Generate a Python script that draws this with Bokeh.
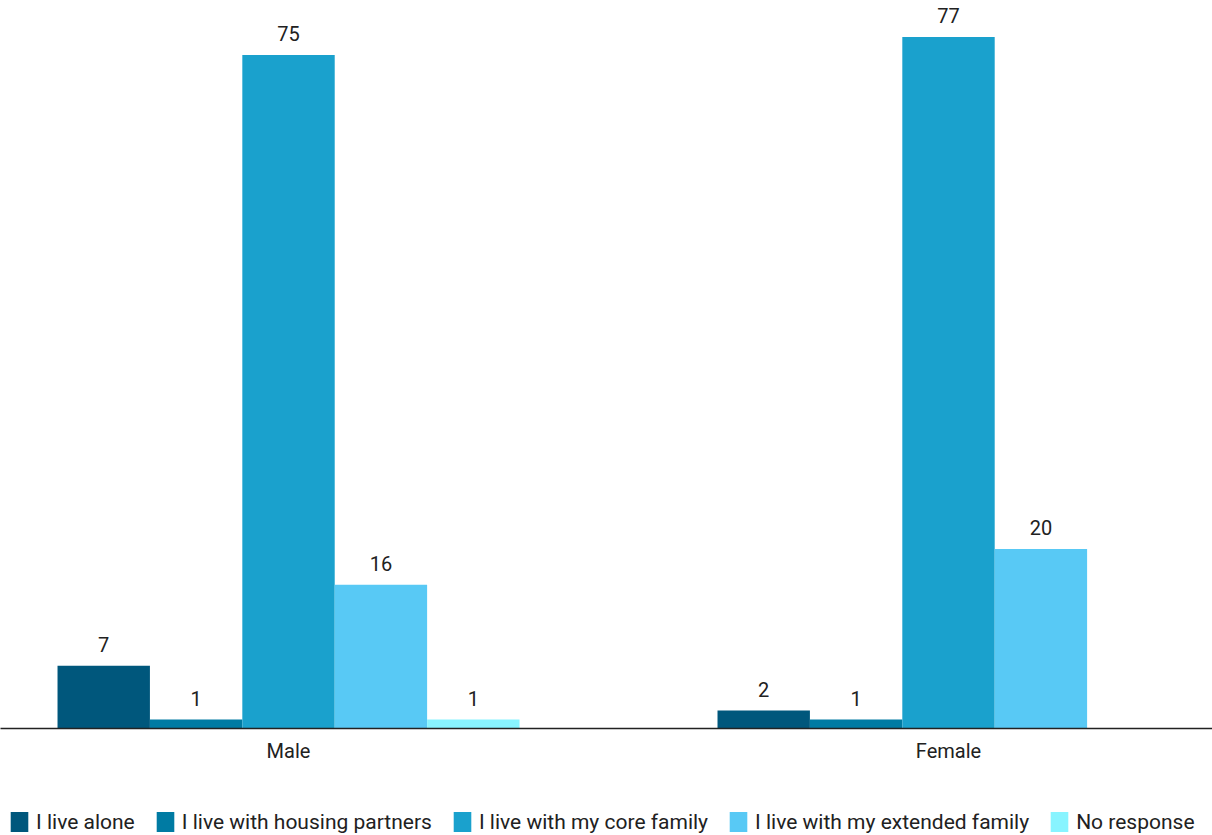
from bokeh.plotting import figure
from bokeh.layouts import column
from bokeh.models import ColumnDataSource, LabelSet, Legend, LegendItem, FixedTicker, Range1d
from bokeh.core.properties import value
from bokeh.embed import file_html
from bokeh.resources import INLINE

groups = ["Male", "Female"]
series = ["I live alone", "I live with housing partners", "I live with my core family",
          "I live with my extended family", "No response"]
values = {
    "I live alone": [7, 2],
    "I live with housing partners": [1, 1],
    "I live with my core family": [75, 77],
    "I live with my extended family": [16, 20],
    "No response": [1, 0],
}
colors = ["#00577C", "#007BA3", "#1AA1CD", "#58C9F5", "#88F4FF"]

FONT = "Roboto"
TEXT = "#212121"

p = figure(width=1212, height=768, output_backend="svg", toolbar_location=None,
           x_range=Range1d(-0.4364, 1.4), y_range=Range1d(0, 81.07),
           min_border_left=0, min_border_right=0, min_border_top=0, min_border_bottom=40)
p.outline_line_color = None
p.grid.visible = False
p.yaxis.visible = False

bar_w = 0.14
for i, s in enumerate(series):
    xs = [g + (i - 2) * bar_w for g in range(len(groups))]
    ys = values[s]
    src = ColumnDataSource(dict(x=xs, top=ys))
    p.vbar(x="x", top="top", width=bar_w, source=src, fill_color=colors[i], line_color=None)
    lsrc = ColumnDataSource(dict(x=[x for x, v in zip(xs, ys) if v > 0],
                                 y=[v for v in ys if v > 0],
                                 lab=[str(v) for v in ys if v > 0]))
    p.add_layout(LabelSet(x="x", y="y", text="lab", source=lsrc, y_offset=14,
                          text_align="center", text_baseline="bottom",
                          text_font=value(FONT), text_font_size="20px", text_color=TEXT))

xa = p.xaxis[0]
xa.ticker = FixedTicker(ticks=[0, 1])
xa.major_label_overrides = {0: "Male", 1: "Female"}
xa.major_tick_line_color = None
xa.minor_tick_line_color = None
xa.major_tick_out = 0
xa.major_tick_in = 0
xa.axis_line_color = "#222222"
xa.axis_line_width = 1.5
xa.major_label_text_font = FONT
xa.major_label_text_font_size = "20px"
xa.major_label_text_color = TEXT
xa.major_label_standoff = 10

# legend strip (swatch renderers sit far outside the visible range)
lg = figure(width=1212, height=67, output_backend="svg", toolbar_location=None,
            x_range=Range1d(0, 1), y_range=Range1d(0, 1),
            min_border_left=0, min_border_right=0, min_border_top=0, min_border_bottom=0)
lg.outline_line_color = None
lg.grid.visible = False
lg.axis.visible = False
items = []
for i, s in enumerate(series):
    r = lg.vbar(x=[1000], bottom=[-1001], top=[-1000], width=0.1,
                fill_color=colors[i], line_color=None)
    items.append(LegendItem(label=s, renderers=[r]))

legend = Legend(items=items, orientation="horizontal", location=(8, 1),
                label_text_font=FONT, label_text_font_size="21px", label_text_color=TEXT,
                glyph_width=22, glyph_height=25, label_standoff=6, spacing=19,
                padding=0, margin=0, border_line_color=None, background_fill_alpha=0,
                label_height=25)
lg.add_layout(legend, "center")

layout = column(p, lg, spacing=0)
open("out.html", "w").write(file_html(layout, INLINE))
